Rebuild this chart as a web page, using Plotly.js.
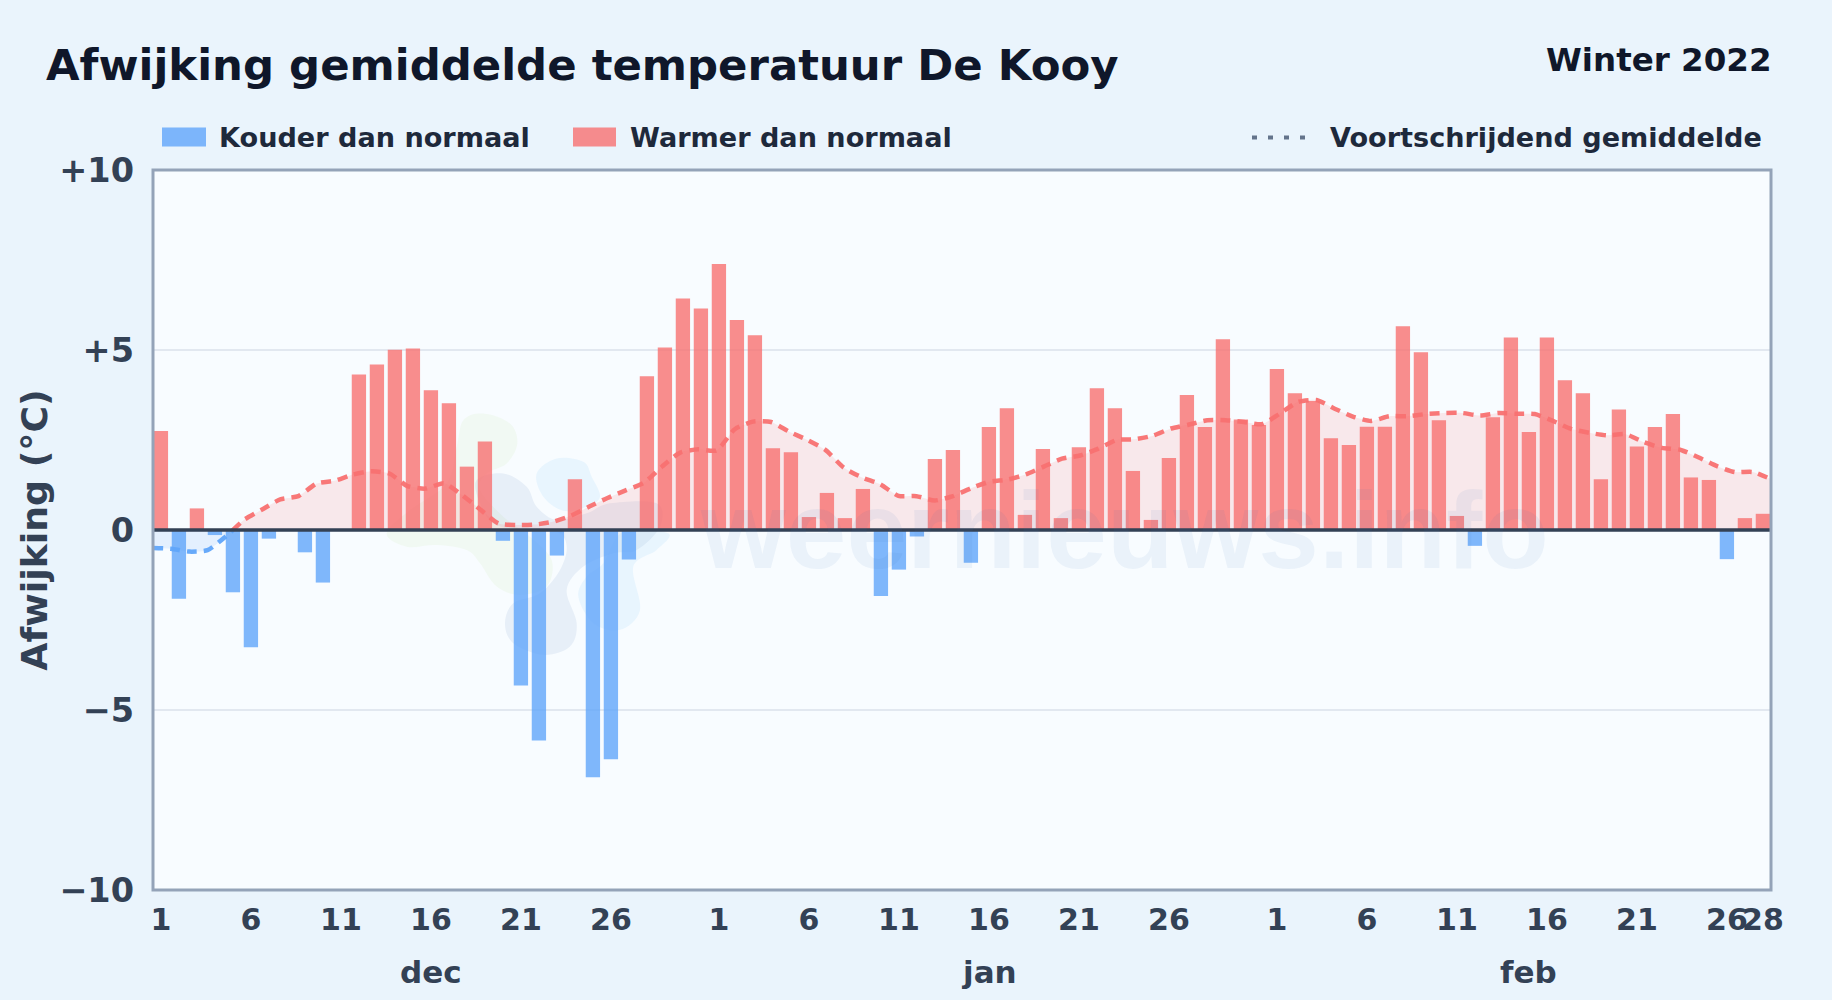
<!DOCTYPE html>
<html lang="nl">
<head>
<meta charset="utf-8">
<title>Afwijking gemiddelde temperatuur De Kooy</title>
<script src="https://cdn.plot.ly/plotly-3.0.1.min.js"></script>
<style>html,body{margin:0;padding:0;background:#eaf4fc;overflow:hidden}#chart{width:1832px;height:1000px}</style>
</head>
<body>
<div id="chart"></div>
<script>
// Afwijking per dag, 1 dec t/m 28 feb
const anomalyDec = [2.75,-1.91,0.6,-0.14,-1.73,-3.26,-0.24,0,-0.62,-1.46,0,4.32,4.6,5.01,5.04,3.88,3.52,1.76,2.46,-0.3,-4.32,-5.85,-0.71,1.41,-6.87,-6.37,-0.82,4.27,5.07,6.43,6.15];
const anomalyJan = [7.39,5.83,5.41,2.27,2.16,0.36,1.03,0.33,1.14,-1.83,-1.1,-0.18,1.97,2.22,-0.91,2.86,3.38,0.42,2.25,0.33,2.3,3.94,3.38,1.64,0.28,2.0,3.75,2.86,5.3,3.07,2.92];
const anomalyFeb = [4.47,3.8,3.58,2.55,2.36,2.87,2.87,5.66,4.94,3.05,0.39,-0.44,3.13,5.35,2.72,5.35,4.16,3.8,1.41,3.35,2.32,2.86,3.22,1.46,1.39,-0.81,0.33,0.45];
// Voortschrijdend gemiddelde
const movingDec = [-0.5,-0.52,-0.6,-0.56,-0.18,0.28,0.57,0.85,0.94,1.29,1.37,1.54,1.63,1.57,1.22,1.15,1.3,0.97,0.57,0.18,0.14,0.15,0.23,0.4,0.65,0.89,1.1,1.31,1.76,2.15,2.24];
const movingJan = [2.21,2.8,3.01,3.0,2.73,2.5,2.22,1.73,1.46,1.27,0.95,0.94,0.82,0.94,1.16,1.34,1.4,1.54,1.76,1.98,2.07,2.26,2.5,2.52,2.62,2.82,2.93,3.05,3.05,3.0,2.94];
const movingFeb = [3.24,3.56,3.61,3.37,3.15,3.03,3.16,3.16,3.22,3.25,3.25,3.18,3.25,3.23,3.22,3.03,2.81,2.7,2.63,2.66,2.44,2.28,2.23,2.02,1.78,1.61,1.61,1.41];
const yTickVals = [10,5,0,-5,-10];
const yTickText = ['+10','+5','0','\u22125','\u221210'];
const dayTicks = [1,6,11,16,21,26];
const febTicks = [1,6,11,16,21,26,28];
const months = ['dec','jan','feb'];
const xRange = [-0.44, 89.45];

const anomaly = anomalyDec.concat(anomalyJan, anomalyFeb);
const moving = movingDec.concat(movingJan, movingFeb);
const days = anomaly.map((_, i) => i);
const cold = anomaly.map(v => v < 0 ? v : null);
const warm = anomaly.map(v => v > 0 ? v : null);

// Het gemiddelde loopt van rand tot rand van de grafiek
const lineX = i => xRange[0] + i * (xRange[1] - xRange[0]) / (moving.length - 1);

// Gemiddelde splitsen op het nulpunt
const split = {neg:{x:[],y:[]}, pos:{x:[],y:[]}};
moving.forEach((v, i) => {
  if (i > 0 && (moving[i-1] < 0) !== (v < 0)) {
    const cross = lineX(i - 1 + (0 - moving[i-1]) / (v - moving[i-1]));
    split.neg.x.push(cross); split.neg.y.push(0);
    split.pos.x.push(cross); split.pos.y.push(0);
  }
  const part = v < 0 ? split.neg : split.pos;
  part.x.push(lineX(i)); part.y.push(v);
});

const xTickVals = dayTicks.map(d => d - 1)
  .concat(dayTicks.map(d => d - 1 + 31))
  .concat(febTicks.map(d => d - 1 + 62));
const xTickText = dayTicks.concat(dayTicks, febTicks).map(String);

const P = {l:153, r:1771, t:169.5, b:890.5, W:1832, H:1000};
const fx = x => (x - P.l) / (P.r - P.l);
const fy = y => (P.b - y) / (P.b - P.t);

function blob(points) {
  const n = points.length;
  const p = i => points[(i + n) % n];
  const pt = (x, y) => fx(x).toFixed(5) + ',' + fy(y).toFixed(5);
  let d = 'M' + pt(p(0)[0], p(0)[1]);
  for (let i = 0; i < n; i++) {
    const a = p(i-1), b = p(i), c = p(i+1), e = p(i+2);
    d += ' C' + pt(b[0]+(c[0]-a[0])/6, b[1]+(c[1]-a[1])/6) + ' ' +
      pt(c[0]-(e[0]-b[0])/6, c[1]-(e[1]-b[1])/6) + ' ' + pt(c[0], c[1]);
  }
  return d + ' Z';
}
const z6 = pts => pts.map(q => [370 + q[0]/3, 390 + q[1]/3]);
const logoGreen = z6([[340,70],[420,100],[442,160],[410,220],[350,250],[330,300],[400,380],[480,440],[545,510],[530,590],[450,615],[380,590],[330,520],[290,480],[200,465],[110,470],[50,430],[120,360],[230,280],[260,170],[280,90]]);
const logoSlate = z6([[320,270],[400,250],[470,290],[500,350],[560,390],[650,370],[720,340],[860,340],[870,410],[800,480],[730,490],[640,530],[590,600],[620,700],[600,770],[520,795],[430,760],[405,700],[430,640],[510,610],[570,540],[590,470],[560,425],[450,420],[370,400],[330,340]]);
const logoBlueA = z6([[500,250],[560,205],[640,215],[665,260],[690,320],[650,350],[580,362],[520,320]]);
const logoBlueB = z6([[760,425],[895,430],[860,480],[790,530],[810,660],[750,720],[670,700],[625,620],[650,560],[700,520]]);

const hLine = (x0, x1, y, color, width, dash) => ({type:'line', layer:'above', xref:'paper', yref:'paper',
  x0:fx(x0), x1:fx(x1), y0:fy(y), y1:fy(y), line:{color:color, width:width, dash:dash||'solid'}});
const swatch = (x0, x1, color) => ({type:'rect', layer:'above', xref:'paper', yref:'paper',
  x0:fx(x0), x1:fx(x1), y0:fy(146), y1:fy(127), fillcolor:color, opacity:0.8, line:{width:0}});
const logoShape = (pts, color) => ({type:'path', layer:'below', xref:'paper', yref:'paper', path:blob(pts), fillcolor:color, line:{width:0}});

const shapes = [
  logoShape(logoGreen, 'rgba(190,225,150,0.11)'),
  logoShape(logoSlate, 'rgba(90,130,190,0.10)'),
  logoShape(logoBlueA, 'rgba(120,195,250,0.12)'),
  logoShape(logoBlueB, 'rgba(120,195,250,0.12)'),
  {type:'line', layer:'above', xref:'paper', yref:'y', x0:0, x1:1, y0:0, y1:0, line:{color:'#334155', width:3.5}},
  {type:'rect', layer:'above', xref:'paper', yref:'paper', x0:0, x1:1, y0:0, y1:1, line:{color:'#94a3b8', width:3}},
  swatch(162, 206, '#60a5fa'),
  swatch(573, 616, '#f87171'),
  hLine(1252, 1307, 137, '#64748b', 4, '5px,11px')
];

const FONT = 'DejaVu Sans';
const text = (t, x, y, size, color, anchor) => ({text:'<b>'+t+'</b>', xref:'paper', yref:'paper', x:fx(x), y:fy(y),
  xanchor:anchor||'left', yanchor:'middle', showarrow:false, borderpad:0,
  font:{family:FONT, size:size, color:color}});
const monthLabel = (t, x) => ({text:'<b>'+t+'</b>', xref:'x', yref:'paper', x:x, y:fy(973), xanchor:'center', yanchor:'middle',
  showarrow:false, font:{family:FONT, size:31, color:'#334155'}});

const annotations = [
  {text:'<b>weernieuws.info</b>', xref:'paper', yref:'paper', x:fx(1124), y:fy(530), xanchor:'center', yanchor:'middle', showarrow:false,
    font:{family:'Liberation Sans', size:109, color:'rgba(50,110,190,0.07)'}},
  text('Afwijking gemiddelde temperatuur De Kooy', 45, 64, 43.4, '#0f172a'),
  text('Winter 2022', 1773, 59, 32.5, '#0f172a', 'right'),
  text('Kouder dan normaal', 218, 137, 27.1, '#1e293b'),
  text('Warmer dan normaal', 629, 137, 27.1, '#1e293b'),
  text('Voortschrijdend gemiddelde', 1329, 137, 27.1, '#1e293b'),
  monthLabel(months[0], 15),
  monthLabel(months[1], 46),
  monthLabel(months[2], 76)
];

const lineStyle = color => ({color:color, width:4.5, dash:'10px,7px', shape:'spline', smoothing:0.6});
const traces = [
  {type:'bar', name:'Kouder dan normaal', x:days, y:cold, width:0.795, marker:{color:'#60a5fa', opacity:0.8, line:{width:0}}, hoverinfo:'x+y'},
  {type:'bar', name:'Warmer dan normaal', x:days, y:warm, width:0.795, marker:{color:'#f87171', opacity:0.8, line:{width:0}}, hoverinfo:'x+y'},
  {type:'scatter', mode:'lines', name:'Voortschrijdend gemiddelde', x:split.neg.x, y:split.neg.y, fill:'tozeroy', fillcolor:'rgba(96,165,250,0.13)', line:lineStyle('rgba(96,165,250,0.95)')},
  {type:'scatter', mode:'lines', name:'Voortschrijdend gemiddelde', x:split.pos.x, y:split.pos.y, fill:'tozeroy', fillcolor:'rgba(248,113,113,0.14)', line:lineStyle('rgba(248,113,113,0.95)')}
];

const layout = {
  width:P.W, height:P.H, autosize:false, showlegend:false, barmode:'overlay',
  margin:{l:P.l, r:P.W-P.r, t:P.t, b:P.H-P.b, pad:0},
  paper_bgcolor:'#eaf4fc', plot_bgcolor:'#f8fcff',
  font:{family:FONT, color:'#334155'},
  xaxis:{range:xRange, tickmode:'array', tickvals:xTickVals, ticktext:xTickText, showgrid:false, zeroline:false,
    showline:false, ticks:'', ticklabelstandoff:9,
    tickangle:0, tickfont:{family:FONT, size:30, weight:700, color:'#334155'}},
  yaxis:{range:[-10,10], tickmode:'array', tickvals:yTickVals, ticktext:yTickText, showgrid:true, gridcolor:'#e2e8f0', gridwidth:2,
    zeroline:false, showline:false, ticks:'', ticklabelstandoff:18,
    tickfont:{family:FONT, size:33.5, weight:700, color:'#334155'},
    title:{text:'<b>Afwijking (°C)</b>', font:{family:FONT, size:36.3, color:'#334155'}, standoff:0}},
  shapes:shapes, annotations:annotations
};
Plotly.newPlot('chart', traces, layout, {displayModeBar:false, staticPlot:true});
</script>
</body>
</html>
